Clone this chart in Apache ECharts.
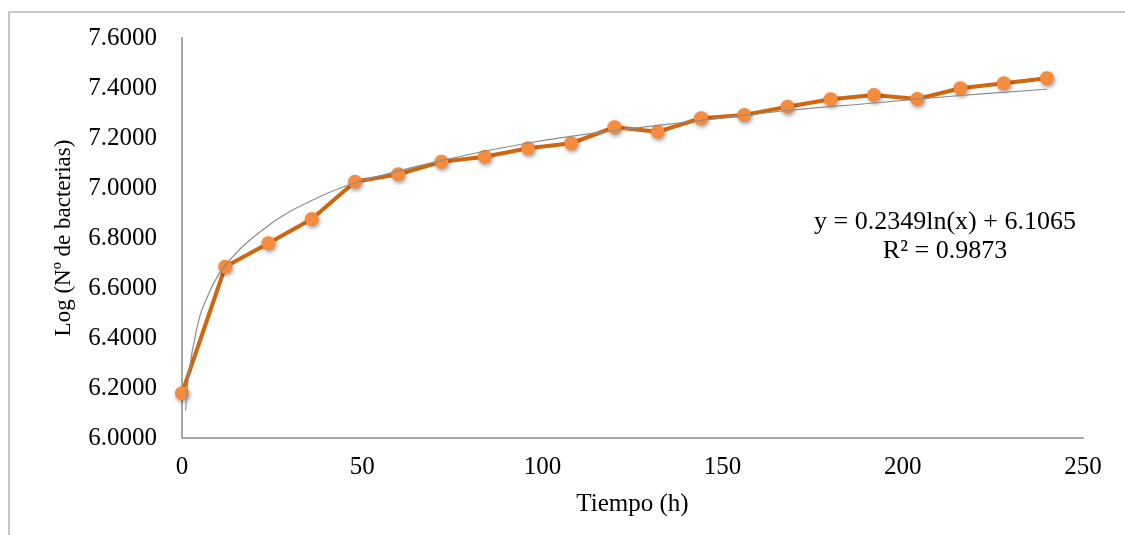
<!DOCTYPE html>
<html>
<head>
<meta charset="utf-8">
<script src="https://cdn.jsdelivr.net/npm/echarts@6/dist/echarts.min.js"></script>
<style>
html,body{margin:0;padding:0;background:#fff;}
#chart{width:1125px;height:535px;}
</style>
</head>
<body>
<div id="chart"></div>
<script>
// Data
const hours = [0, 12, 24, 36, 48, 60, 72, 84, 96, 108, 120, 132, 144, 156, 168, 180, 192, 204, 216, 228, 240];
const logBacteria = [6.179, 6.685, 6.779, 6.876, 7.025, 7.055, 7.105, 7.125, 7.159, 7.179, 7.243, 7.225, 7.279, 7.292, 7.325, 7.355, 7.372, 7.356, 7.399, 7.419, 7.439];
// Trendline points
const trendHours = [1, 2, 4, 6, 12, 24, 36, 48, 72, 96, 120, 144, 168, 192, 216, 240];
const trendValues = [6.11, 6.27, 6.43, 6.53, 6.69, 6.85, 6.95, 7.02, 7.11, 7.18, 7.23, 7.27, 7.31, 7.34, 7.37, 7.395];
const xTicks = [0, 50, 100, 150, 200, 250];
const yTicks = [6.0, 6.2, 6.4, 6.6, 6.8, 7.0, 7.2, 7.4, 7.6];
const equationText = 'y = 0.2349ln(x) + 6.1065';
const r2Text = 'R² = 0.9873';
const xTitle = 'Tiempo (h)';
const yTitle = 'Log (Nº de bacterias)';

const FONT = '"Liberation Serif", "Times New Roman", serif';
const chart = echarts.init(document.getElementById('chart'), null, {renderer: 'canvas'});

const mainData = hours.map((h, i) => [h, logBacteria[i]]);
const trendData = trendHours.map((h, i) => [h, trendValues[i]]);

chart.setOption({
  animation: false,
  backgroundColor: '#ffffff',
  grid: {left: 182, right: 42, top: 38, bottom: 97, containLabel: false},
  xAxis: {
    type: 'value',
    min: xTicks[0], max: xTicks[xTicks.length - 1], interval: 50,
    name: xTitle, nameLocation: 'middle', nameGap: 54,
    nameTextStyle: {fontFamily: FONT, fontSize: 25, color: '#000'},
    axisLine: {show: true, onZero: false, lineStyle: {color: '#a6a6a6', width: 2}},
    axisTick: {show: false},
    splitLine: {show: false},
    axisLabel: {fontFamily: FONT, fontSize: 25, color: '#000', margin: 17}
  },
  yAxis: {
    type: 'value',
    min: yTicks[0], max: yTicks[yTicks.length - 1], interval: 0.2,
    name: yTitle, nameLocation: 'middle', nameGap: 107, nameRotate: 90,
    nameTextStyle: {fontFamily: FONT, fontSize: 23, color: '#000'},
    axisLine: {show: true, lineStyle: {color: '#a6a6a6', width: 2}},
    axisTick: {show: false},
    splitLine: {show: false},
    axisLabel: {fontFamily: FONT, fontSize: 25, color: '#000', margin: 25,
      formatter: v => v.toFixed(4)}
  },
  series: [
    {
      type: 'line', name: 'Log', data: mainData,
      symbol: 'circle', symbolSize: 14, clip: false,
      lineStyle: {color: '#d2660f', width: 4},
      itemStyle: {color: '#f58b3c', borderColor: '#f58b3c', borderWidth: 0,
        shadowColor: 'rgba(0,0,0,0.4)', shadowBlur: 4, shadowOffsetX: 1, shadowOffsetY: 2},
      z: 3
    },
    {
      type: 'line', name: 'Tendencia', data: trendData,
      smooth: 0.4, showSymbol: false, symbol: 'none', clip: false,
      lineStyle: {color: '#8c8c8c', width: 1.2},
      z: 4
    }
  ],
  graphic: [
    {type: 'rect', shape: {x: 9, y: 12, width: 1130, height: 540},
      style: {fill: 'none', stroke: '#c8c8c8', lineWidth: 2}, z: -1, silent: true},
    {type: 'text', x: 945, y: 222,
      style: {text: equationText, font: '26px ' + FONT, fill: '#000', align: 'center', verticalAlign: 'middle'}},
    {type: 'text', x: 945, y: 251,
      style: {text: r2Text, font: '26px ' + FONT, fill: '#000', align: 'center', verticalAlign: 'middle'}}
  ]
});
</script>
</body>
</html>
